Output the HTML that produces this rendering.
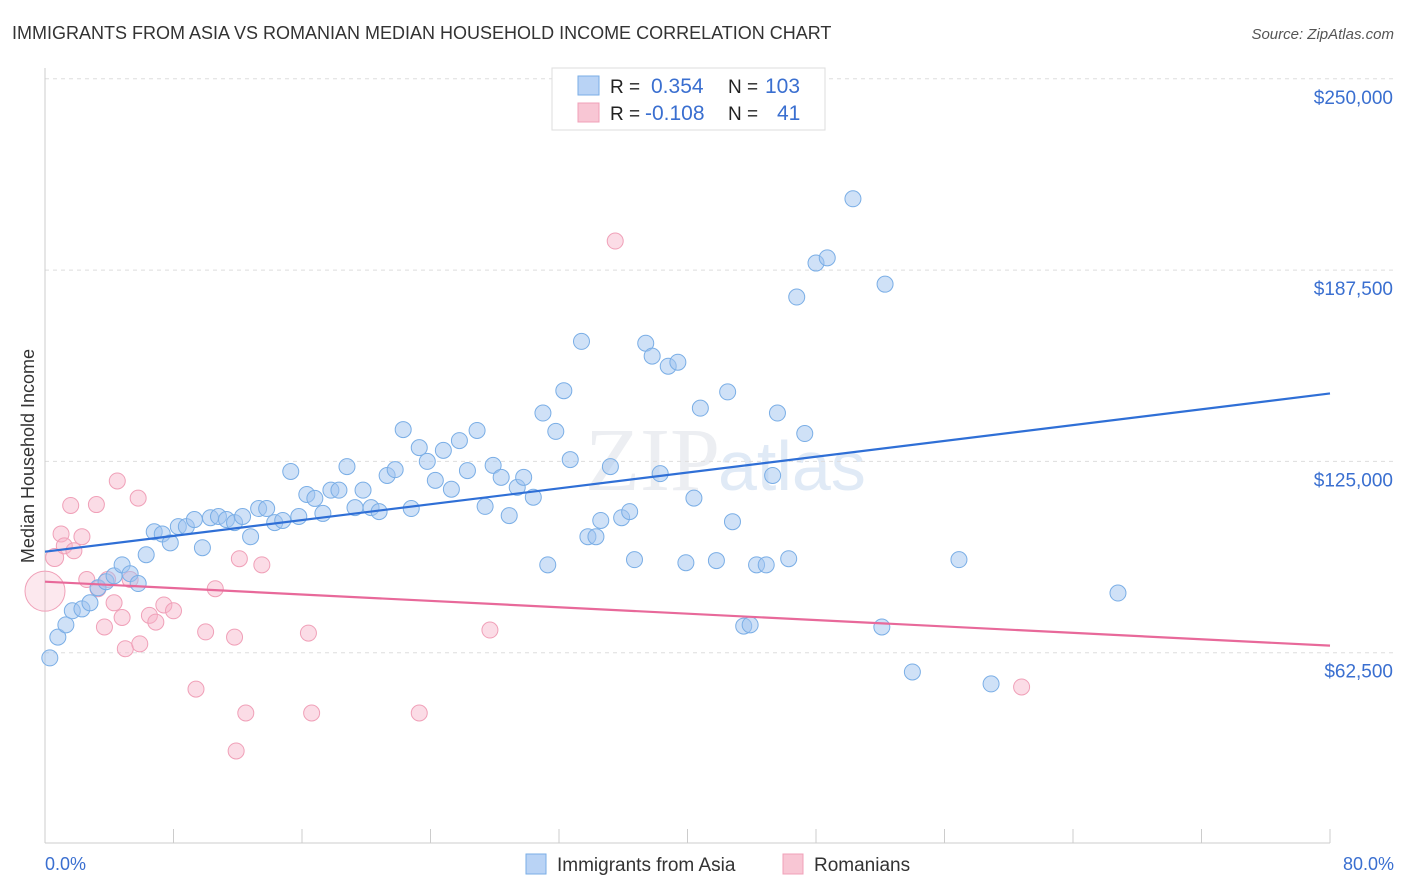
<!DOCTYPE html>
<html><head><meta charset="utf-8"><style>
body{margin:0;background:#fff;font-family:"Liberation Sans",sans-serif;}
#wrap{position:relative;width:1406px;height:892px;overflow:hidden;}
svg{position:absolute;left:0;top:0;}
</style></head><body>
<div id="wrap">
<svg id="c" width="1406" height="892">
<text x="12" y="39" font-size="18" fill="#333">IMMIGRANTS FROM ASIA VS ROMANIAN MEDIAN HOUSEHOLD INCOME CORRELATION CHART</text>
<text x="1394" y="39" font-size="15" fill="#555" font-style="italic" text-anchor="end">Source: ZipAtlas.com</text>
<text x="720" y="490" font-size="90" fill="#eceef2" text-anchor="end" font-family="Liberation Serif">ZIP</text>
<text x="718" y="490" font-size="70" fill="#e0eaf6">atlas</text>
<text transform="translate(34,456) rotate(-90)" font-size="18" fill="#333" text-anchor="middle">Median Household Income</text>
<g id="grid"></g><g id="trend"></g><g id="pts"></g>
<text x="45" y="870" font-size="18" fill="#3a6fd0">0.0%</text>
<text x="1394" y="870" font-size="18" fill="#3a6fd0" text-anchor="end">80.0%</text>
<g>
<rect x="552" y="68" width="273" height="62" fill="#fff" stroke="#ddd"/>
<rect x="578" y="76" width="21" height="19" fill="#b9d3f5" stroke="#7aaee6"/>
<rect x="578" y="103" width="21" height="19" fill="#f8c6d4" stroke="#f0a0b8"/>
<text x="610" y="93" font-size="19" fill="#222">R = </text><text x="651" y="93" font-size="21" fill="#3a6fd0">0.354</text>
<text x="728" y="93" font-size="19" fill="#222">N = </text><text x="765" y="93" font-size="21" fill="#3a6fd0">103</text>
<text x="610" y="120" font-size="19" fill="#222">R = </text><text x="645" y="120" font-size="21" fill="#3a6fd0">-0.108</text>
<text x="728" y="120" font-size="19" fill="#222">N = </text><text x="777" y="120" font-size="21" fill="#3a6fd0">41</text>
</g>
<g>
<rect x="526" y="854" width="20" height="20" fill="#b9d3f5" stroke="#7aaee6"/>
<text x="557" y="871" font-size="19" fill="#333">Immigrants from Asia</text>
<rect x="783" y="854" width="20" height="20" fill="#f8c6d4" stroke="#f0a0b8"/>
<text x="814" y="871" font-size="19" fill="#333">Romanians</text>
</g>
</svg></div>
<script>
const yTicks=[62500,125000,187500,250000];
const yTickLabels=["$62,500","$125,000","$187,500","$250,000"];
const xTicks=[0,8,16,24,32,40,48,56,64,72,80];
const asiaX=[0.3,0.8,1.3,1.7,2.3,2.8,3.3,3.8,4.3,4.8,5.3,5.8,6.3,6.8,7.3,7.8,8.3,8.8,9.3,9.8,10.3,10.8,11.3,11.8,12.3,12.8,13.3,13.8,14.3,14.8,15.3,15.8,16.3,16.8,17.3,17.8,18.3,18.8,19.3,19.8,20.3,20.8,21.3,21.8,22.3,22.8,23.3,23.8,24.3,24.8,25.3,25.8,26.3,26.9,27.4,27.9,28.4,28.9,29.4,29.8,30.4,31.0,31.3,31.8,32.3,32.7,33.4,33.8,34.3,34.6,35.2,35.9,36.4,36.7,37.4,37.8,38.3,38.8,39.4,39.9,40.4,40.8,41.8,42.5,42.8,43.5,43.9,44.3,44.9,45.3,45.6,46.3,46.8,47.3,48.0,48.7,50.3,52.1,52.3,54.0,56.9,58.9,66.8];
const asiaY=[60.8,67.6,71.6,76.2,76.8,78.8,83.7,85.7,87.6,91.2,88.3,85.1,94.5,102.0,101.3,98.4,103.7,103.7,106.0,96.8,106.6,107.0,106.0,105.0,107.0,100.4,109.6,109.6,105.0,105.7,121.7,107.0,114.2,112.9,108.0,115.6,115.6,123.3,109.9,115.6,109.9,108.6,120.4,122.3,135.4,109.6,129.5,125.0,118.8,128.6,115.9,131.8,122.0,135.1,110.3,123.7,119.8,107.3,116.5,119.8,113.3,140.8,91.2,134.8,148.1,125.6,164.2,100.4,100.4,105.7,123.3,106.6,108.6,92.9,163.6,159.4,121.0,156.1,157.4,91.9,113.0,142.4,92.6,147.7,105.3,71.2,71.6,91.2,91.2,120.4,140.8,93.2,178.7,134.1,189.8,191.5,210.8,70.9,182.9,56.2,92.9,52.3,82.0];
const romX=[0.0,0.6,1.0,1.2,1.6,1.8,2.3,2.6,3.2,3.3,3.7,3.9,4.3,4.5,4.8,5.0,5.3,5.8,5.9,6.5,6.9,7.4,8.0,9.4,10.0,10.6,11.8,11.9,12.1,12.5,13.5,16.4,16.6,23.3,27.7,35.5,60.8];
const romY=[82.6,93.6,101.3,97.4,110.6,95.8,100.4,86.4,110.9,83.4,70.9,86.4,78.8,118.6,74.0,63.8,86.4,113.0,65.4,74.7,72.5,78.1,76.2,50.6,69.3,83.4,67.6,30.4,93.2,42.8,91.2,68.9,42.8,42.8,69.9,197.0,51.3];
const romR=[20,9,8,8,8,8,8,8,8,8,8,8,8,8,8,8,8,8,8,8,8,8,8,8,8,8,8,8,8,8,8,8,8,8,8,8,8];
const asiaTrend=[95.5,147.2];
const romTrend=[85.7,64.8];
const X=v=>45+v/80*1285, Y=v=>844-v/62.5*191.3;
const NS="http://www.w3.org/2000/svg";
function mk(t,a,p){const e=document.createElementNS(NS,t);for(const k in a)e.setAttribute(k,a[k]);p.appendChild(e);return e;}
const g=document.getElementById('grid');
yTicks.forEach((t,i)=>{
 const l=mk('line',{x1:45,x2:1394,y1:Y(t/1000),y2:Y(t/1000),stroke:'#ddd','stroke-dasharray':'4,4'},g);
 
 
 const tx=mk('text',{x:1393,y:Y(t/1000)+25,'font-size':19,fill:'#3a6fd0','text-anchor':'end'},g);
 tx.textContent=yTickLabels[i];
 
 
});
const ax=mk('line',{x1:45,x2:1330,y1:843,y2:843,stroke:'#ccc'},g);


const ay=mk('line',{x1:45,x2:45,y1:68,y2:843,stroke:'#ccc'},g);


xTicks.forEach(t=>{const l=mk('line',{x1:X(t),x2:X(t),y1:829,y2:843,stroke:'#ccc'},g);
 
 });
const p=document.getElementById('pts');
romX.forEach((x,i)=>{const c=mk('circle',{cx:X(x),cy:Y(romY[i]),r:romR[i],fill:romR[i]>12?'rgba(246,178,200,0.3)':'rgba(246,178,200,0.45)',stroke:'#f0a0b8','stroke-width':1},p);
 
 });
asiaX.forEach((x,i)=>{const c=mk('circle',{cx:X(x),cy:Y(asiaY[i]),r:8,fill:'rgba(160,196,240,0.5)',stroke:'#7aaee6','stroke-width':1},p);
 
 });
const tr=document.getElementById('trend');
const t1=mk('line',{x1:X(0),x2:X(80),y1:Y(asiaTrend[0]),y2:Y(asiaTrend[1]),stroke:'#2f6fd6','stroke-width':2.2},tr);


const t2=mk('line',{x1:X(0),x2:X(80),y1:Y(romTrend[0]),y2:Y(romTrend[1]),stroke:'#e8699a','stroke-width':2.2},tr);


document.getElementById('c').appendChild(tr);
</script>
</body></html>
